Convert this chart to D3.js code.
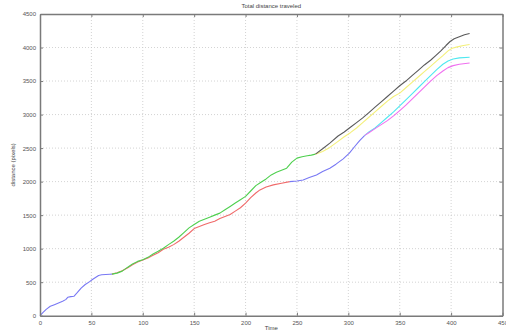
<!DOCTYPE html>
<html>
<head>
<meta charset="utf-8">
<script src="https://cdn.jsdelivr.net/npm/d3@7"></script>
<style>
  body { margin: 0; background: #fff; }
  svg { display: block; font-family: "Liberation Sans", Arial, sans-serif; }
</style>
</head>
<body>
<div id="chart"></div>
<script>
// [time, distance] samples per track segment
const blueStart = [[0,0],[3,50],[6,95],[10,140],[14,165],[18,190],[22,215],[25,240],[27,275],[30,285],[33,290],[36,340],[40,410],[44,465],[48,505],[51,540],[54,570],[57,600],[60,610],[64,615],[68,618],[70,620]];
const redSeg = [[70,620],[75,640],[80,670],[85,710],[90,760],[95,800],[100,830],[105,860],[110,900],[115,940],[120,990],[125,1020],[130,1060],[135,1110],[140,1170],[145,1230],[150,1300],[155,1330],[160,1360],[165,1385],[170,1410],[175,1450],[180,1480],[185,1510],[190,1560],[195,1610],[200,1680],[205,1760],[210,1830],[214,1876],[220,1920],[227,1951],[235,1975],[243,2000]];
const greenSeg = [[70,620],[75,635],[80,665],[85,720],[90,770],[95,810],[100,835],[105,870],[110,920],[115,960],[120,1005],[125,1060],[130,1110],[135,1170],[140,1240],[145,1310],[150,1360],[155,1410],[160,1440],[165,1470],[170,1500],[175,1530],[180,1580],[185,1630],[190,1680],[195,1730],[200,1780],[205,1860],[210,1940],[215,1990],[220,2040],[225,2100],[230,2140],[235,2170],[240,2200],[245,2290],[250,2350],[255,2370],[260,2385],[264,2395],[268,2410]];
const blueMid = [[243,2000],[250,2010],[256,2025],[262,2060],[269,2100],[275,2150],[282,2200],[288,2260],[295,2340],[301,2424],[306,2520],[311,2610],[316,2690]];
const blackSeg = [[268,2410],[275,2490],[282,2575],[290,2680],[296,2740],[302,2810],[308,2880],[314,2950],[320,3030],[326,3110],[332,3190],[338,3270],[344,3350],[350,3430],[356,3500],[362,3580],[368,3660],[374,3740],[380,3810],[385,3880],[390,3950],[395,4030],[399,4090],[403,4130],[408,4160],[413,4190],[418,4210]];
const yellowSeg = [[268,2410],[275,2450],[282,2510],[290,2600],[296,2670],[302,2730],[308,2800],[314,2880],[320,2960],[326,3040],[332,3120],[338,3200],[344,3270],[350,3320],[356,3400],[362,3480],[368,3560],[374,3640],[380,3720],[386,3800],[392,3880],[397,3950],[401,3990],[406,4010],[412,4030],[418,4045]];
const cyanSeg = [[316,2690],[320,2740],[326,2800],[332,2880],[338,2960],[344,3040],[350,3130],[356,3220],[362,3310],[368,3400],[374,3490],[380,3580],[386,3670],[392,3750],[397,3800],[402,3830],[408,3845],[418,3855]];
const magentaSeg = [[316,2690],[320,2730],[326,2790],[332,2850],[338,2910],[344,2980],[350,3060],[356,3140],[362,3230],[368,3320],[374,3410],[380,3500],[386,3580],[392,3650],[397,3700],[402,3730],[408,3750],[418,3770]];

const xTicks = d3.range(0, 451, 50);
const yTicks = d3.range(0, 4501, 500);

const segments = [
  { pts: redSeg, color: '#f06a6a' },
  { pts: greenSeg, color: '#4fd04f' },
  { pts: blueStart, color: '#7878f4' },
  { pts: blueMid, color: '#7878f4' },
  { pts: yellowSeg, color: '#f4f07a' },
  { pts: cyanSeg, color: '#4fe8f0' },
  { pts: magentaSeg, color: '#f070f0' },
  { pts: blackSeg, color: '#5a5a5a' }
];

const W = 506, H = 331;
const margin = { left: 40, right: 3.5, top: 14, bottom: 15.3 };
const iw = W - margin.left - margin.right;
const ih = H - margin.top - margin.bottom;

const svg = d3.select('#chart').append('svg')
  .attr('width', W)
  .attr('height', H);

const g = svg.append('g')
  .attr('transform', `translate(${margin.left},${margin.top})`);

const x = d3.scaleLinear().domain([0, 450]).range([0, iw]);
const y = d3.scaleLinear().domain([0, 4500]).range([ih, 0]);

// dotted grid
g.append('g').selectAll('line.gx')
  .data(xTicks.slice(1, -1)).enter().append('line')
  .attr('x1', d => x(d)).attr('x2', d => x(d))
  .attr('y1', 0).attr('y2', ih)
  .attr('stroke', '#c8c8c8').attr('stroke-width', 0.8)
  .attr('stroke-dasharray', '1,2');
g.append('g').selectAll('line.gy')
  .data(yTicks.slice(1, -1)).enter().append('line')
  .attr('x1', 0).attr('x2', iw)
  .attr('y1', d => y(d)).attr('y2', d => y(d))
  .attr('stroke', '#c8c8c8').attr('stroke-width', 0.8)
  .attr('stroke-dasharray', '1,2');

// data lines
const line = d3.line().x(d => x(d[0])).y(d => y(d[1]));
g.append('g').selectAll('path')
  .data(segments).enter().append('path')
  .attr('d', d => line(d.pts))
  .attr('fill', 'none')
  .attr('stroke', d => d.color)
  .attr('stroke-width', 1.1)
  .attr('stroke-linejoin', 'round');

// axes, ticks pointing inward
function styleAxis(sel) {
  sel.select('.domain').attr('stroke', '#7a7a7a').attr('stroke-width', 1.5);
  sel.selectAll('.tick line').attr('stroke', '#7a7a7a');
  sel.selectAll('.tick text').attr('fill', '#555').style('font-size', '6px');
}

const fmt = d3.format('d');
g.append('g')
  .attr('transform', `translate(0,${ih})`)
  .call(d3.axisBottom(x).tickValues(xTicks).tickFormat(fmt).tickSize(-3).tickPadding(5).tickSizeOuter(0))
  .call(styleAxis);
g.append('g')
  .call(d3.axisLeft(y).tickValues(yTicks).tickFormat(fmt).tickSize(-3).tickPadding(4).tickSizeOuter(0))
  .call(styleAxis);
g.append('g')
  .call(d3.axisTop(x).tickValues(xTicks).tickSize(-3).tickFormat('').tickSizeOuter(0))
  .call(styleAxis);
g.append('g')
  .attr('transform', `translate(${iw},0)`)
  .call(d3.axisRight(y).tickValues(yTicks).tickSize(-3).tickFormat('').tickSizeOuter(0))
  .call(styleAxis);

// titles
svg.append('text')
  .attr('x', margin.left + iw / 2).attr('y', 8)
  .attr('text-anchor', 'middle')
  .attr('fill', '#444').style('font-size', '6px')
  .text('Total distance traveled');
svg.append('text')
  .attr('x', margin.left + iw / 2).attr('y', 330)
  .attr('text-anchor', 'middle')
  .attr('fill', '#444').style('font-size', '6px')
  .text('Time');
svg.append('text')
  .attr('transform', `translate(15,${margin.top + ih / 2}) rotate(-90)`)
  .attr('text-anchor', 'middle')
  .attr('fill', '#444').style('font-size', '6px')
  .text('distance (pixels)');
</script>
</body>
</html>
